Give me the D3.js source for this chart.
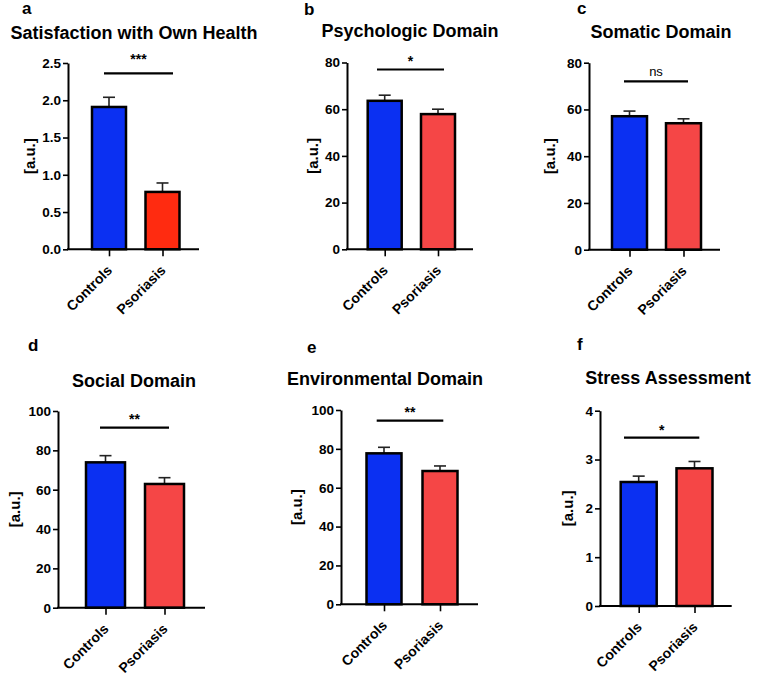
<!DOCTYPE html>
<html>
<head>
<meta charset="utf-8">
<script src="https://cdn.jsdelivr.net/npm/d3@7"></script>
<style>
  html, body { margin: 0; padding: 0; background: #fff; }
  svg { display: block; font-family: "Liberation Sans", Arial, Helvetica, sans-serif; }
</style>
</head>
<body>
<svg id="chart" width="757" height="679"></svg>
<script>
// ---------------- data ----------------
const categories = ["Controls", "Psoriasis"];
const panelLetters = ["a", "b", "c", "d", "e", "f"];
const panelTitles = ["Satisfaction with Own Health", "Psychologic Domain", "Somatic Domain",
                     "Social Domain", "Environmental Domain", "Stress Assessment"];
const controlsMean  = [1.91, 63.6, 57.1, 73.9, 77.7, 2.54];
const controlsSem   = [0.13, 2.4, 2.2, 3.4, 3.1, 0.12];
const psoriasisMean = [0.77, 57.9, 54.1, 62.9, 68.6, 2.82];
const psoriasisSem  = [0.12, 2.1, 1.9, 3.2, 2.6, 0.14];
const yMax      = [2.5, 80, 80, 100, 100, 4];
const yTickStep = [0.5, 20, 20, 20, 20, 1];
const yTickFmt  = [".1f", "d", "d", "d", "d", "d"];
const sigLabels = ["***", "*", "ns", "**", "**", "*"];
const sigLevel  = [2.36, 77, 72, 91.5, 94.5, 3.45];
const yAxisLabel = "[a.u.]";

// ---------------- layout (pixels) ----------------
const layout = [
  {axisX: 68,  xEnd: 199, yTop: 63,   yBot: 249.3, c1: 109,   c2: 162.5, bw: 34, sx1: 104,   sx2: 173,   sdy: 9, labX: 30,  letX: 22,  letY: 14,  titX: 134, titY: 39},
  {axisX: 347, xEnd: 473, yTop: 62.5, yBot: 249.3, c1: 384.7, c2: 438,   bw: 34, sx1: 377,   sx2: 444,   sdy: 4, labX: 313, letX: 304, letY: 15,  titX: 410, titY: 37},
  {axisX: 589, xEnd: 720, yTop: 62.7, yBot: 249.7, c1: 629.5, c2: 683.5, bw: 35, sx1: 624,   sx2: 688,   sdy: 5, labX: 550, letX: 577, letY: 14,  titX: 661, titY: 38},
  {axisX: 58,  xEnd: 205, yTop: 411,  yBot: 607.7, c1: 105.5, c2: 164.5, bw: 39, sx1: 100,   sx2: 169,   sdy: 4, labX: 15,  letX: 28,  letY: 351, titX: 134, titY: 387},
  {axisX: 341, xEnd: 478, yTop: 410,  yBot: 604.3, c1: 384,   c2: 440,   bw: 35, sx1: 376.7, sx2: 443.3, sdy: 4, labX: 297, letX: 307, letY: 353, titX: 385, titY: 385},
  {axisX: 600, xEnd: 731.7, yTop: 410.7, yBot: 606, c1: 638.7, c2: 694.5, bw: 36, sx1: 624, sx2: 699.3, sdy: 3, labX: 568, letX: 577, letY: 350, titX: 668, titY: 384}
];

const barFill = [
  ["#0b30f2", "#ff2b10"],
  ["#0b30f2", "#f54646"],
  ["#0b30f2", "#f54646"],
  ["#0b30f2", "#f54646"],
  ["#0b30f2", "#f54646"],
  ["#0b30f2", "#f54646"]
];

const svg = d3.select("#chart");

panelTitles.forEach((title, i) => {
  const L = layout[i];
  const g = svg.append("g");

  const x = d3.scalePoint().domain(categories).range([L.c1, L.c2]);
  const y = d3.scaleLinear().domain([0, yMax[i]]).range([L.yBot, L.yTop]);

  const rows = categories.map((c, k) => ({
    cat: c,
    mean: k === 0 ? controlsMean[i] : psoriasisMean[i],
    sem:  k === 0 ? controlsSem[i]  : psoriasisSem[i],
    fill: barFill[i][k]
  }));

  // letter & title
  g.append("text").attr("x", L.letX).attr("y", L.letY)
    .attr("font-size", 17).attr("font-weight", "bold").text(panelLetters[i]);
  g.append("text").attr("x", L.titX).attr("y", L.titY)
    .attr("text-anchor", "middle").attr("font-size", 18).attr("font-weight", "bold").text(title);

  // error bars (upper only)
  rows.forEach(r => {
    const cx = x(r.cat);
    g.append("line").attr("x1", cx).attr("x2", cx)
      .attr("y1", y(r.mean)).attr("y2", y(r.mean + r.sem))
      .attr("stroke", "#222").attr("stroke-width", 1.6);
    g.append("line").attr("x1", cx - 6).attr("x2", cx + 6)
      .attr("y1", y(r.mean + r.sem)).attr("y2", y(r.mean + r.sem))
      .attr("stroke", "#222").attr("stroke-width", 1.6);
  });

  // bars
  g.selectAll("rect.bar").data(rows).join("rect")
    .attr("class", "bar")
    .attr("x", d => x(d.cat) - L.bw / 2)
    .attr("width", L.bw)
    .attr("y", d => y(d.mean))
    .attr("height", d => y(0) - y(d.mean))
    .attr("fill", d => d.fill)
    .attr("stroke", "#000").attr("stroke-width", 2.5);

  // y axis
  const ticks = d3.range(0, yMax[i] + yTickStep[i] / 2, yTickStep[i]);
  const yAxis = d3.axisLeft(y).tickValues(ticks).tickFormat(d3.format(yTickFmt[i]))
    .tickSize(5).tickSizeOuter(0).tickPadding(2);
  const ya = g.append("g").attr("transform", `translate(${L.axisX},0)`).call(yAxis);
  ya.select(".domain").attr("stroke", "#000").attr("stroke-width", 2);
  ya.selectAll(".tick line").attr("stroke", "#000").attr("stroke-width", 1.6);
  ya.selectAll(".tick text").attr("font-size", 13.5).attr("font-weight", "bold")
    .attr("fill", "#000").attr("font-family", "Liberation Sans, Arial, sans-serif");

  // x axis
  g.append("line").attr("x1", L.axisX - 1).attr("x2", L.xEnd)
    .attr("y1", L.yBot).attr("y2", L.yBot)
    .attr("stroke", "#000").attr("stroke-width", 2);
  const xa = g.append("g").attr("transform", `translate(0,${L.yBot})`)
    .call(d3.axisBottom(x).tickSize(7).tickSizeOuter(0).tickFormat(""));
  xa.select(".domain").remove();
  xa.selectAll(".tick line").attr("stroke", "#000").attr("stroke-width", 1.6);
  categories.forEach(c => {
    const px = x(c) + 4, py = L.yBot + 22;
    g.append("text")
      .attr("transform", `translate(${px},${py}) rotate(-45)`)
      .attr("text-anchor", "end")
      .attr("font-size", 14).attr("font-weight", "bold")
      .text(c);
  });

  // y label
  const midY = (L.yTop + L.yBot) / 2;
  g.append("text")
    .attr("transform", `translate(${L.labX + 5},${midY}) rotate(-90)`)
    .attr("text-anchor", "middle")
    .attr("font-size", 15).attr("font-weight", "bold")
    .text(yAxisLabel);

  // significance
  const sy = y(sigLevel[i]);
  g.append("line").attr("x1", L.sx1).attr("x2", L.sx2).attr("y1", sy).attr("y2", sy)
    .attr("stroke", "#000").attr("stroke-width", 2.2);
  g.append("text").attr("x", (L.sx1 + L.sx2) / 2).attr("y", sy - L.sdy)
    .attr("text-anchor", "middle")
    .attr("font-size", sigLabels[i] === "ns" ? 13 : 14)
    .attr("font-weight", sigLabels[i] === "ns" ? "normal" : "bold")
    .text(sigLabels[i]);
});
</script>
</body>
</html>
